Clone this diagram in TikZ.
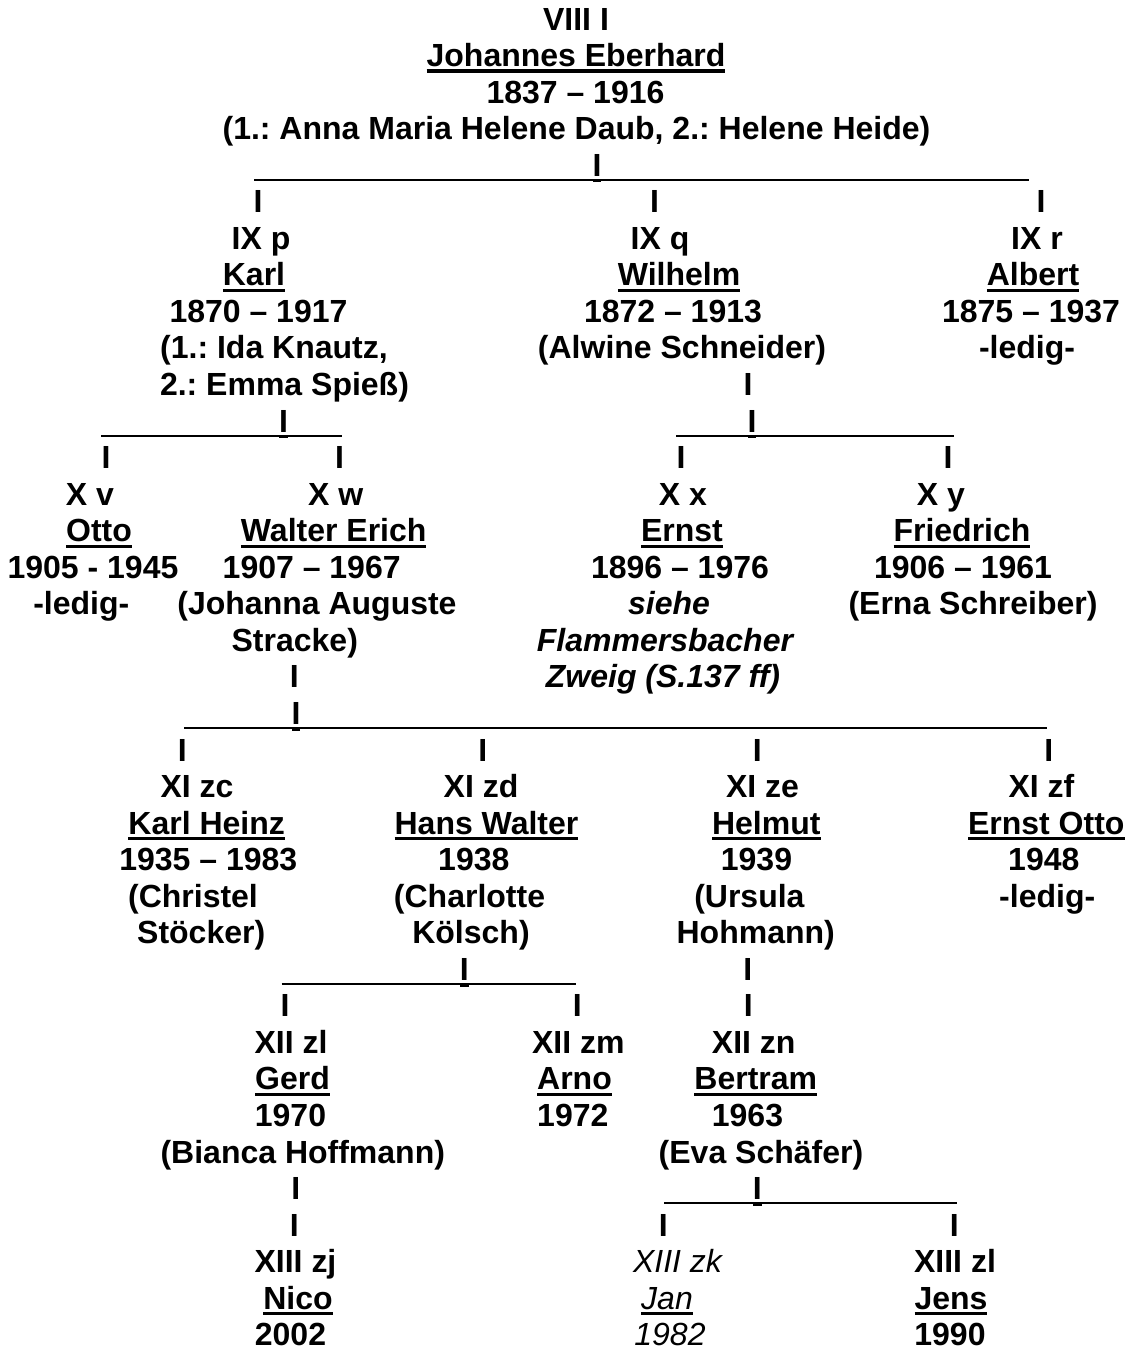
\documentclass[tikz,border=0pt]{standalone}
\usepackage{fontspec}
\setmainfont{Liberation Sans}
\frenchspacing
\newcommand{\treefont}{\fontsize{32pt}{36.55pt}\selectfont}
\newsavebox{\nmbox}
\newcommand{\nm}[1]{\sbox{\nmbox}{#1}\rlap{\rule[-6.2pt]{\wd\nmbox}{3.3pt}}\usebox{\nmbox}}
\tikzset{rail/.style={line width=1.6pt}}

\begin{document}
\begin{tikzpicture}[x=1pt,y=-36.55pt,
  every node/.style={anchor=base,inner sep=0pt,font=\treefont\bfseries},
  ref/.style={font=\treefont\bfseries\itshape},
  lite/.style={font=\treefont\mdseries\itshape}]
\useasboundingbox (0pt,0pt) rectangle (1131pt,-1353pt);
\begin{scope}[yshift=-30pt]
% VIII
\node (joh-g) at (576,0) {VIII I};
\node (joh-n) at (576,1) {\nm{Johannes Eberhard}};
\node (joh-d) at (575.5,2) {1837 -- 1916};
\node (joh-s) at (576.5,3) {(1.: Anna Maria Helene Daub, 2.: Helene Heide)};
\node (t4) at (597,4) {\nm{I}};
\coordinate (r4a) at (254,4.1);
\coordinate (r4b) at (1029,4.1);
\draw[rail] (r4a) -- (r4b);
\node (t5a) at (258,5) {I};
\node (t5b) at (654.5,5) {I};
\node (t5c) at (1041,5) {I};
% IX
\node (karl-g) at (261,6) {IX p};
\node (karl-n) at (254,7) {\nm{Karl}};
\node (karl-d) at (258.5,8) {1870 -- 1917};
\node (karl-s1) at (274,9) {(1.: Ida Knautz,};
\node (karl-s2) at (284.5,10) {2.: Emma Spieß)};
\node (wil-g) at (660,6) {IX q};
\node (wil-n) at (679,7) {\nm{Wilhelm}};
\node (wil-d) at (673,8) {1872 -- 1913};
\node (wil-s) at (682,9) {(Alwine Schneider)};
\node (alb-g) at (1037,6) {IX r};
\node (alb-n) at (1033,7) {\nm{Albert}};
\node (alb-d) at (1031,8) {1875 -- 1937};
\node (alb-s) at (1027,9) {-ledig-};
\node (t10) at (748,10) {I};
\node (t11a) at (283.5,11) {\nm{I}};
\node (t11b) at (752,11) {\nm{I}};
\coordinate (r11a) at (101,11.1);
\coordinate (r11b) at (342,11.1);
\coordinate (r11c) at (676,11.1);
\coordinate (r11d) at (954,11.1);
\draw[rail] (r11a) -- (r11b);
\draw[rail] (r11c) -- (r11d);
\node (t12a) at (106,12) {I};
\node (t12b) at (339.5,12) {I};
\node (t12c) at (681,12) {I};
\node (t12d) at (948,12) {I};
% X
\node (otto-g) at (90,13) {X v};
\node (otto-n) at (99,14) {\nm{Otto}};
\node (otto-d) at (93,15) {1905 - 1945};
\node (otto-s) at (81.3,16) {-ledig-};
\node (wal-g) at (335.7,13) {X w};
\node (wal-n) at (333.7,14) {\nm{Walter Erich}};
\node (wal-d) at (311.7,15) {1907 -- 1967};
\node (wal-s1) at (317,16) {(Johanna Auguste};
\node (wal-s2) at (294.8,17) {Stracke)};
\node (ern-g) at (683,13) {X x};
\node (ern-n) at (682,14) {\nm{Ernst}};
\node (ern-d) at (680,15) {1896 -- 1976};
\node[ref] (ern-r1) at (669,16) {siehe};
\node[ref] (ern-r2) at (665,17) {Flammersbacher};
\node[ref] (ern-r3) at (663,18) {Zweig (S.137 ff)};
\node (fri-g) at (941,13) {X y};
\node (fri-n) at (962,14) {\nm{Friedrich}};
\node (fri-d) at (963,15) {1906 -- 1961};
\node (fri-s) at (973,16) {(Erna Schreiber)};
\node (t18) at (294.3,18) {I};
\node (t19) at (296,19) {\nm{I}};
\coordinate (r19a) at (184.3,19.1);
\coordinate (r19b) at (1047,19.1);
\draw[rail] (r19a) -- (r19b);
\node (t20a) at (182.3,20) {I};
\node (t20b) at (482.7,20) {I};
\node (t20c) at (757.3,20) {I};
\node (t20d) at (1048.7,20) {I};
% XI
\node (kh-g) at (197,21) {XI zc};
\node (kh-n) at (206.7,22) {\nm{Karl Heinz}};
\node (kh-d) at (208.3,23) {1935 -- 1983};
\node (kh-s1) at (193,24) {(Christel};
\node (kh-s2) at (201.2,25) {Stöcker)};
\node (hw-g) at (481,21) {XI zd};
\node (hw-n) at (486.5,22) {\nm{Hans Walter}};
\node (hw-d) at (473.8,23) {1938};
\node (hw-s1) at (469.5,24) {(Charlotte};
\node (hw-s2) at (471,25) {Kölsch)};
\node (hel-g) at (762.5,21) {XI ze};
\node (hel-n) at (766.3,22) {\nm{Helmut}};
\node (hel-d) at (756.5,23) {1939};
\node (hel-s1) at (749.4,24) {(Ursula};
\node (hel-s2) at (755.7,25) {Hohmann)};
\node (eo-g) at (1041.5,21) {XI zf};
\node (eo-n) at (1046.3,22) {\nm{Ernst Otto}};
\node (eo-d) at (1043.8,23) {1948};
\node (eo-s) at (1047.2,24) {-ledig-};
\node (t26a) at (464.3,26) {\nm{I}};
\node (t26b) at (747.7,26) {I};
\coordinate (r26a) at (281.7,26.1);
\coordinate (r26b) at (576,26.1);
\draw[rail] (r26a) -- (r26b);
\node (t27a) at (285,27) {I};
\node (t27b) at (577.3,27) {I};
\node (t27c) at (748.3,27) {I};
% XII
\node (gerd-g) at (291,28) {XII zl};
\node (gerd-n) at (292.5,29) {\nm{Gerd}};
\node (gerd-d) at (290.5,30) {1970};
\node (gerd-s) at (302.8,31) {(Bianca Hoffmann)};
\node (arno-g) at (578.3,28) {XII zm};
\node (arno-n) at (574.5,29) {\nm{Arno}};
\node (arno-d) at (572.8,30) {1972};
\node (ber-g) at (753.7,28) {XII zn};
\node (ber-n) at (755.8,29) {\nm{Bertram}};
\node (ber-d) at (747.5,30) {1963};
\node (ber-s) at (761,31) {(Eva Schäfer)};
\node (t32a) at (295.7,32) {I};
\node (t32b) at (757.3,32) {\nm{I}};
\coordinate (r32a) at (664,32.1);
\coordinate (r32b) at (957,32.1);
\draw[rail] (r32a) -- (r32b);
\node (t33a) at (294.3,33) {I};
\node (t33b) at (663.3,33) {I};
\node (t33c) at (954.3,33) {I};
% XIII
\node (nico-g) at (295.5,34) {XIII zj};
\node (nico-n) at (298,35) {\nm{Nico}};
\node (nico-d) at (290.5,36) {2002};
\node[lite] (jan-g) at (677.5,34) {XIII zk};
\node[lite] (jan-n) at (667,35) {\nm{Jan}};
\node[lite] (jan-d) at (670,36) {1982};
\node (jens-g) at (955,34) {XIII zl};
\node (jens-n) at (951,35) {\nm{Jens}};
\node (jens-d) at (950,36) {1990};
\end{scope}
\end{tikzpicture}
\end{document}
